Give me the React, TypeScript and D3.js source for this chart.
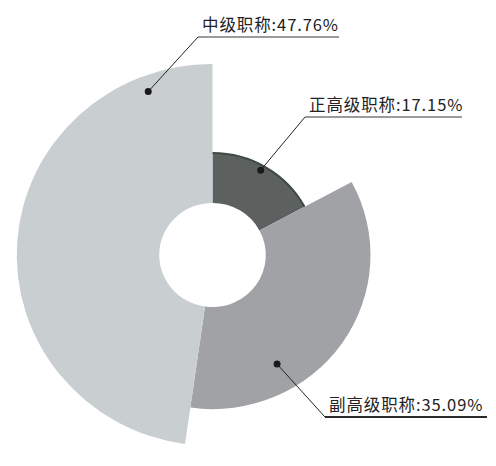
import React from "react";
import * as d3 from "d3";

// 职称结构
const categories = ["正高级职称", "副高级职称", "中级职称"];
const percents = [17.15, 35.09, 47.76];
const colors = ["#5c605f", "#a0a2a5", "#c9ced1"];

// label placement: dot (angle in degrees, radius) and elbow/text position
const labelLayout = [
  { angle: 29, r: 97, ex: 305, ey: 117, lineEnd: 462, lineColor: "#9b9b9b" },
  { angle: 150, r: 126, ex: 325, ey: 417, lineEnd: 487, lineColor: "#2a2a2a" },
  { angle: 339, r: 175, ex: 198, ey: 37, lineEnd: 339, lineColor: "#9b9b9b" },
];

const W = 496;
const H = 466;
const cx = 212.5;
const cy = 255;
const sx = 1.025; // the scan is slightly wider than tall
const inner = 52;
const outerMax = 191;

export default function App() {
  const rScale = d3
    .scaleLinear()
    .domain([0, d3.max(percents) as number])
    .range([inner, outerMax]);

  const pie = d3
    .pie<number>()
    .sort(null)
    .value((d) => d);
  const arcs = pie(percents);

  const arcGen = d3
    .arc<d3.PieArcDatum<number>>()
    .innerRadius(inner)
    .outerRadius((d) => rScale(d.data));

  const outerEdge = d3
    .arc<d3.PieArcDatum<number>>()
    .innerRadius((d) => rScale(d.data))
    .outerRadius((d) => rScale(d.data));

  return (
    <svg
      width={W}
      height={H}
      style={{ position: "absolute", left: 0, top: 0, background: "#fff" }}
    >
      <g transform={`translate(${cx},${cy}) scale(${sx},1)`}>
        {arcs.map((a, i) => (
          <path key={categories[i]} d={arcGen(a) || ""} fill={colors[i]} />
        ))}
        {/* darker rim on the smallest slice */}
        <path
          d={outerEdge(arcs[0]) || ""}
          fill="none"
          stroke="#3e4a46"
          strokeWidth={2}
        />
      </g>
      {labelLayout.map((l, i) => {
        const [px, py] = d3.pointRadial((l.angle * Math.PI) / 180, l.r);
        const dx = cx + px * sx;
        const dy = cy + py;
        return (
          <g key={categories[i]}>
            <line x1={dx} y1={dy} x2={l.ex} y2={l.ey} stroke="#222" strokeWidth={1} />
            <line
              x1={l.ex}
              y1={l.ey}
              x2={l.lineEnd}
              y2={l.ey}
              stroke={l.lineColor}
              strokeWidth={2}
            />
            <circle cx={dx} cy={dy} r={3.5} fill="#1a1a1a" />
            <text
              x={l.ex + 4}
              y={l.ey - 6}
              fontFamily="'Noto Sans CJK SC', 'Noto Sans', sans-serif"
              fontSize={16.5}
              letterSpacing={0.9}
              fill="#222"
            >
              {`${categories[i]}:${percents[i].toFixed(2)}%`}
            </text>
          </g>
        );
      })}
    </svg>
  );
}
